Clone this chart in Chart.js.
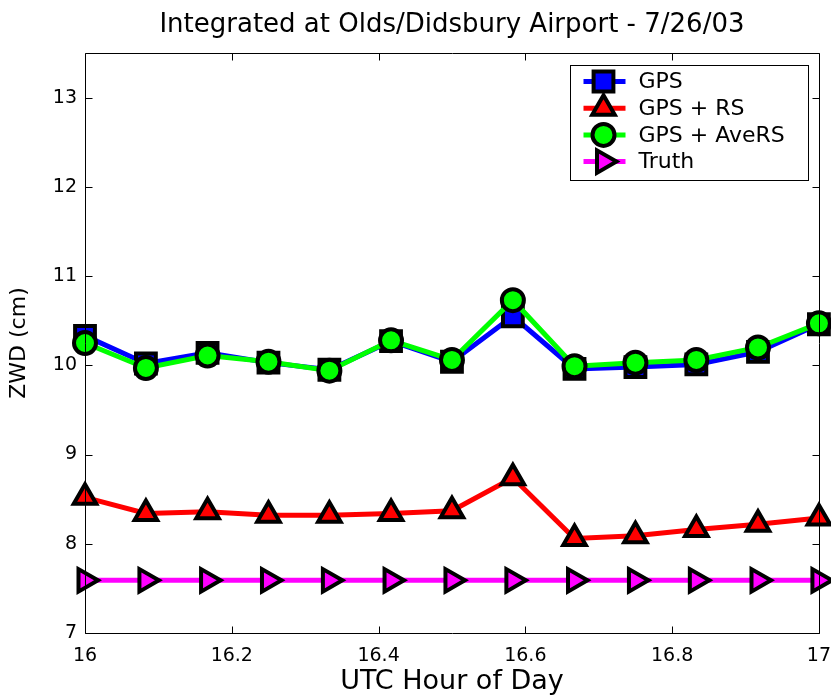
<!DOCTYPE html>
<html>
<head>
<meta charset="utf-8">
<script src="https://cdn.jsdelivr.net/npm/chart.js@4/dist/chart.umd.min.js"></script>
<style>
  html, body { margin: 0; padding: 0; background: #fff; }
  #wrap { width: 831px; height: 698px; }
</style>
</head>
<body>
<div id="wrap"><canvas id="chart" width="831" height="698"></canvas></div>
<script>
// horas UTC (a cada 5 min)
const hours = [16, 16.083, 16.167, 16.25, 16.333, 16.417, 16.5, 16.583, 16.667, 16.75, 16.833, 16.917, 17];

// ZWD (cm) por serie
const gps      = [10.33, 10.02, 10.14, 10.03, 9.95, 10.27, 10.04, 10.55, 9.96, 9.98, 10.01, 10.15, 10.46];
const gpsRs    = [8.52, 8.34, 8.36, 8.32, 8.32, 8.34, 8.37, 8.74, 8.06, 8.09, 8.16, 8.22, 8.29];
const gpsAveRs = [10.25, 9.97, 10.11, 10.04, 9.94, 10.28, 10.06, 10.73, 9.99, 10.03, 10.06, 10.20, 10.47];
const truth    = [7.59, 7.59, 7.59, 7.59, 7.59, 7.59, 7.59, 7.59, 7.59, 7.59, 7.59, 7.59, 7.59];

const seriesNames = ["GPS", "GPS + RS", "GPS + AveRS", "Truth"];
const xTickStep = 0.2;
const yTickStep = 1;

const FONT = "'DejaVu Sans', sans-serif";

function pts(vals) {
  return vals.map((v, i) => ({x: hours[i], y: v}));
}

function serie(label, vals, color, style, radius, rotation, order) {
  return {
    label: label,
    data: pts(vals),
    borderColor: color,
    backgroundColor: color,
    borderWidth: 5,
    pointStyle: style,
    pointRadius: radius,
    pointHoverRadius: radius,
    pointRotation: rotation,
    pointBackgroundColor: color,
    pointBorderColor: "#000",
    pointBorderWidth: 4,
    tension: 0,
    clip: false,
    order: order
  };
}

const datasets = [
  serie(seriesNames[0], gps, "#0000FF", "rect", 14, 0, 4),
  serie(seriesNames[1], gpsRs, "#FF0000", "triangle", 13, 0, 3),
  serie(seriesNames[2], gpsAveRs, "#00FF00", "circle", 11, 0, 2),
  serie(seriesNames[3], truth, "#FF00FF", "triangle", 13, 90, 1)
];

// caixa dos eixos + ticks para dentro
const boxTicks = {
  id: "boxTicks",
  afterDatasetsDraw(chart) {
    const {ctx, chartArea: a, scales} = chart;
    const L = Math.round(a.left) + 0.5, R = Math.round(a.right) + 0.5;
    const T = Math.round(a.top) + 0.5, B = Math.round(a.bottom) + 0.5;
    ctx.save();
    ctx.strokeStyle = "#000";
    ctx.lineWidth = 1;
    ctx.beginPath();
    ctx.rect(L, T, R - L, B - T);
    const len = 7;
    scales.x.ticks.forEach(t => {
      const px = Math.round(scales.x.getPixelForValue(t.value)) + 0.5;
      ctx.moveTo(px, B); ctx.lineTo(px, B - len);
      ctx.moveTo(px, T); ctx.lineTo(px, T + len);
    });
    scales.y.ticks.forEach(t => {
      const py = Math.round(scales.y.getPixelForValue(t.value)) + 0.5;
      ctx.moveTo(L, py); ctx.lineTo(L + len, py);
      ctx.moveTo(R, py); ctx.lineTo(R - len, py);
    });
    ctx.stroke();
    ctx.restore();
  },
  afterDraw(chart) {
    // legenda dentro do grafico
    const {ctx, chartArea: a} = chart;
    const w = 238, h = 115;
    const bx = Math.round(a.right - 11 - w) + 0.5, by = Math.round(a.top + 12) + 0.5;
    ctx.save();
    ctx.fillStyle = "#fff";
    ctx.fillRect(bx, by, w, h);
    ctx.strokeStyle = "#000";
    ctx.lineWidth = 1;
    ctx.strokeRect(bx, by, w, h);
    ctx.font = "22px " + FONT;
    ctx.textBaseline = "middle";
    chart.data.datasets.forEach((ds, i) => {
      const cy = by + 16 + i * 26.7;
      ctx.strokeStyle = ds.borderColor;
      ctx.lineWidth = 5;
      ctx.beginPath();
      ctx.moveTo(bx + 13, cy);
      ctx.lineTo(bx + 55, cy);
      ctx.stroke();
      ctx.fillStyle = ds.pointBackgroundColor;
      ctx.strokeStyle = "#000";
      ctx.lineWidth = ds.pointBorderWidth;
      Chart.helpers.drawPoint(ctx, {
        pointStyle: ds.pointStyle,
        radius: ds.pointRadius,
        rotation: ds.pointRotation,
        borderWidth: ds.pointBorderWidth
      }, bx + 33, cy);
      ctx.fillStyle = "#000";
      ctx.fillText(ds.label, bx + 68, cy + 1);
    });
    ctx.restore();
  }
};

const ctx = document.getElementById("chart").getContext("2d");
new Chart(ctx, {
  type: "line",
  data: {datasets: datasets},
  options: {
    responsive: false,
    animation: false,
    events: [],
    layout: {autoPadding: false, padding: {left: 0, right: 0, top: 0, bottom: 0}},
    plugins: {
      legend: {display: false},
      tooltip: {enabled: false},
      title: {
        display: true,
        fullSize: false,
        text: "Integrated at Olds/Didsbury Airport - 7/26/03",
        color: "#000",
        font: {family: FONT, size: 26, weight: "normal", lineHeight: 1.2},
        padding: {top: 10, bottom: 11.8}
      }
    },
    scales: {
      x: {
        type: "linear",
        min: 16,
        max: 17,
        // ticks externos transparentes so para afastar os rotulos
        grid: {display: true, drawOnChartArea: false, drawTicks: true, tickLength: 12, tickColor: "rgba(0,0,0,0)"},
        border: {display: false},
        ticks: {
          stepSize: xTickStep,
          color: "#000",
          padding: 0,
          maxRotation: 0,
          font: {family: FONT, size: 19},
          callback: v => String(+v.toFixed(1))
        },
        title: {
          display: true,
          text: "UTC Hour of Day",
          color: "#000",
          font: {family: FONT, size: 27},
          padding: {top: 0, bottom: 0}
        },
        afterFit(s) { s.height = 65; }
      },
      y: {
        type: "linear",
        min: 7,
        max: 13.5,
        grid: {display: false, drawTicks: false},
        border: {display: false},
        ticks: {
          stepSize: yTickStep,
          includeBounds: false,
          color: "#000",
          padding: 8,
          font: {family: FONT, size: 19}
        },
        title: {
          display: true,
          text: "ZWD (cm)",
          color: "#000",
          font: {family: FONT, size: 22},
          padding: {top: 6, bottom: 0}
        },
        afterFit(s) { s.width = 85; }
      }
    }
  },
  plugins: [boxTicks]
});
</script>
</body>
</html>
